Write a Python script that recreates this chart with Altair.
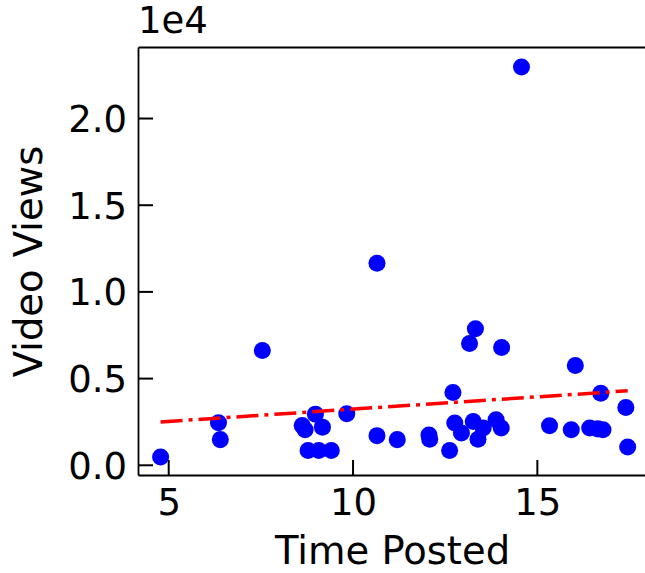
import altair as alt
import pandas as pd

# Values
time_posted = [4.78, 6.35, 6.40, 7.54, 8.62, 8.70, 8.78, 8.98, 9.07, 9.17, 9.41,
               9.83, 10.65, 10.65, 11.20, 12.06, 12.08, 12.62, 12.71, 12.76, 12.94,
               13.16, 13.26, 13.32, 13.39, 13.53, 13.88, 14.02, 14.03, 14.57, 15.33,
               15.92, 16.03, 16.42, 16.64, 16.72, 16.78, 17.40, 17.45]
video_views = [480, 2450, 1480, 6620, 2300, 2050, 850, 2950, 850, 2200, 850,
               2970, 11650, 1710, 1480, 1750, 1500, 850, 4200, 2440, 1860,
               7030, 2530, 7880, 1500, 2150, 2630, 2150, 6790, 22970, 2280,
               2050, 5750, 2150, 2100, 4160, 2050, 3330, 1050]

trend_time = [4.78, 17.45]
trend_views = [2500, 4296]

x_ticks = [5, 10, 15]
y_ticks = [0, 5000, 10000, 15000, 20000]

df = pd.DataFrame({"t": time_posted, "v": video_views})
tr = pd.DataFrame({"t": trend_time, "v": trend_views})
xt = pd.DataFrame({"t": x_ticks})
yt = pd.DataFrame({"v": y_ticks})

FONT = "DejaVu Sans"
FS = 37
TFS = 38.5
TICK = 15
LW = 1.8
W, H = 507, 428
xscale = alt.Scale(domain=[4.167, 17.92], nice=False, zero=False)
yscale = alt.Scale(domain=[-560, 24125], nice=False, zero=False)

points = alt.Chart(df).mark_circle(size=290, color="#0000ff", opacity=1).encode(
    x=alt.X("t:Q", scale=xscale, axis=alt.Axis(
        orient="bottom", values=x_ticks, ticks=False, tickSize=0, domain=True,
        domainColor="black", domainWidth=LW,
        labelFont=FONT, labelFontSize=FS, labelColor="black", labelPadding=10,
        labelFlush=False, labelOverlap=False, grid=False, zindex=1,
        title="Time Posted", titleFont=FONT, titleFontSize=TFS,
        titleFontWeight="normal", titleColor="black", titleX=254, titleY=88,
        titleBaseline="alphabetic", titleAlign="center")),
    y=alt.Y("v:Q", scale=yscale, axis=alt.Axis(
        orient="left", values=y_ticks, ticks=False, tickSize=0, domain=True,
        domainColor="black", domainWidth=LW,
        labelFont=FONT, labelFontSize=FS, labelColor="black", labelPadding=11.5,
        labelFlush=False, labelOverlap=False, labelOffset=2,
        labelExpr="format(datum.value / 10000, '.1f')", grid=False, zindex=1,
        title="Video Views", titleFont=FONT, titleFontSize=TFS,
        titleFontWeight="normal", titleColor="black", titleX=-97, titleY=214,
        titleBaseline="alphabetic", titleAlign="center")),
)

trend = alt.Chart(tr).mark_line(
    color="#ff0000", strokeWidth=3.5, strokeDash=[22, 6, 4, 6], strokeCap="butt"
).encode(
    x=alt.X("t:Q", scale=xscale, axis=None),
    y=alt.Y("v:Q", scale=yscale, axis=None),
)

# inward tick marks (matplotlib "direction='in'")
x_tick_marks = alt.Chart(xt).mark_rule(color="black", strokeWidth=2).encode(
    x=alt.X("t:Q", scale=xscale, axis=None),
    y=alt.value(H - TICK), y2=alt.value(H),
)
y_tick_marks = alt.Chart(yt).mark_rule(color="black", strokeWidth=2).encode(
    y=alt.Y("v:Q", scale=yscale, axis=None),
    x=alt.value(0), x2=alt.value(TICK),
)

frame_top = alt.Chart(tr).mark_line(strokeOpacity=0).encode(
    x=alt.X("t:Q", scale=xscale, axis=alt.Axis(
        orient="top", ticks=False, labels=False, domain=True, domainColor="black",
        domainWidth=LW, grid=False, title=None, zindex=1)),
    y=alt.Y("v:Q", scale=yscale, axis=None),
)

chart = alt.layer(points, trend, x_tick_marks, y_tick_marks, frame_top).resolve_axis(
    x="independent", y="independent"
).properties(
    width=W, height=H,
    autosize=alt.AutoSizeParams(type="none"),
    padding={"left": 138, "top": 47, "right": 0, "bottom": 98},
    title=alt.Title("1e4", anchor="start", frame="group", font=FONT, fontSize=FS,
                    fontWeight="normal", color="black", baseline="alphabetic",
                    offset=9, dy=32),
).configure_view(stroke=None).configure(background="white")

chart.save("out.html", embed_options={"renderer": "svg", "actions": False})
